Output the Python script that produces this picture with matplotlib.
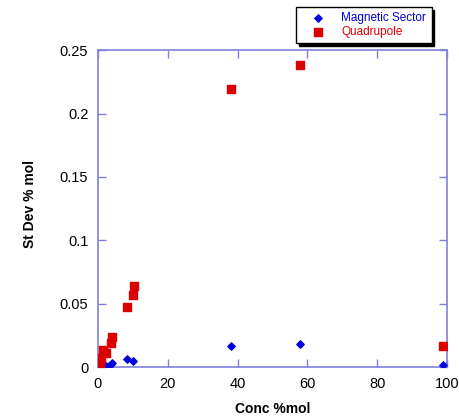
import matplotlib
matplotlib.use("Agg")
import matplotlib.pyplot as plt
from matplotlib.ticker import FuncFormatter

plt.rcParams['font.family'] = ['Liberation Sans', 'DejaVu Sans']

mag_x = [0.1, 1.5, 2.3, 3.4, 4.0, 8.2, 10.1, 38.0, 58.0, 98.8]
mag_y = [0.0, 0.0005, 0.0008, 0.0016, 0.003, 0.006, 0.005, 0.0168, 0.0184, 0.0013]
quad_x = [0.1, 0.6, 1.0, 1.5, 2.3, 3.6, 4.0, 8.2, 10.1, 10.2, 38.0, 58.0, 98.8]
quad_y = [0.0003, 0.003, 0.0069, 0.0134, 0.0108, 0.019, 0.0234, 0.047, 0.0565, 0.064, 0.219, 0.2385, 0.0168]

x_label = "Conc %mol"
y_label = "St Dev % mol"
series_names = ["Magnetic Sector", "Quadrupole"]

axis_color = "#8080dd"

fig = plt.figure(figsize=(4.6, 4.18), dpi=100)
ax = fig.add_axes([0.213, 0.122, 0.759, 0.758])

ax.scatter(mag_x, mag_y, marker='D', s=14, color='#0000dd', label=series_names[0], zorder=3)
ax.scatter(quad_x, quad_y, marker='s', s=28, color='#dd0000', label=series_names[1], zorder=3)

ax.set_xlim(0, 100)
ax.set_ylim(0, 0.25)
ax.set_xticks([0, 20, 40, 60, 80, 100])
ax.set_yticks([0, 0.05, 0.1, 0.15, 0.2, 0.25])
ax.yaxis.set_major_formatter(FuncFormatter(lambda v, p: "%g" % round(v, 3)))

for s in ax.spines.values():
    s.set_color(axis_color)
    s.set_linewidth(1.2)
ax.tick_params(direction='in', top=True, right=True, color=axis_color, length=6,
               width=1, labelsize=10.5, labelcolor='black', pad=7)

ax.set_xlabel(x_label, fontsize=10, fontweight='bold', va='center')
ax.set_ylabel(y_label, fontsize=10, fontweight='bold', va='center')
ax.xaxis.set_label_coords(0.5, -(409 - 367) / 317)
ax.yaxis.set_label_coords((30 - 98) / 349, (367 - 203.5) / 317)

leg = fig.legend(loc='upper left', bbox_to_anchor=(296/460, 1 - 7/418), fontsize=8.5,
                 frameon=True, fancybox=False, shadow={'color': 'black', 'alpha': 1},
                 edgecolor='black', borderpad=0.45, handletextpad=0.6, labelspacing=0.15,
                 borderaxespad=0, handlelength=2.8)
leg.get_frame().set_linewidth(1)
for t, c in zip(leg.get_texts(), ['#0000dd', '#dd0000']):
    t.set_color(c)

fig.savefig("out.png", dpi=100)
